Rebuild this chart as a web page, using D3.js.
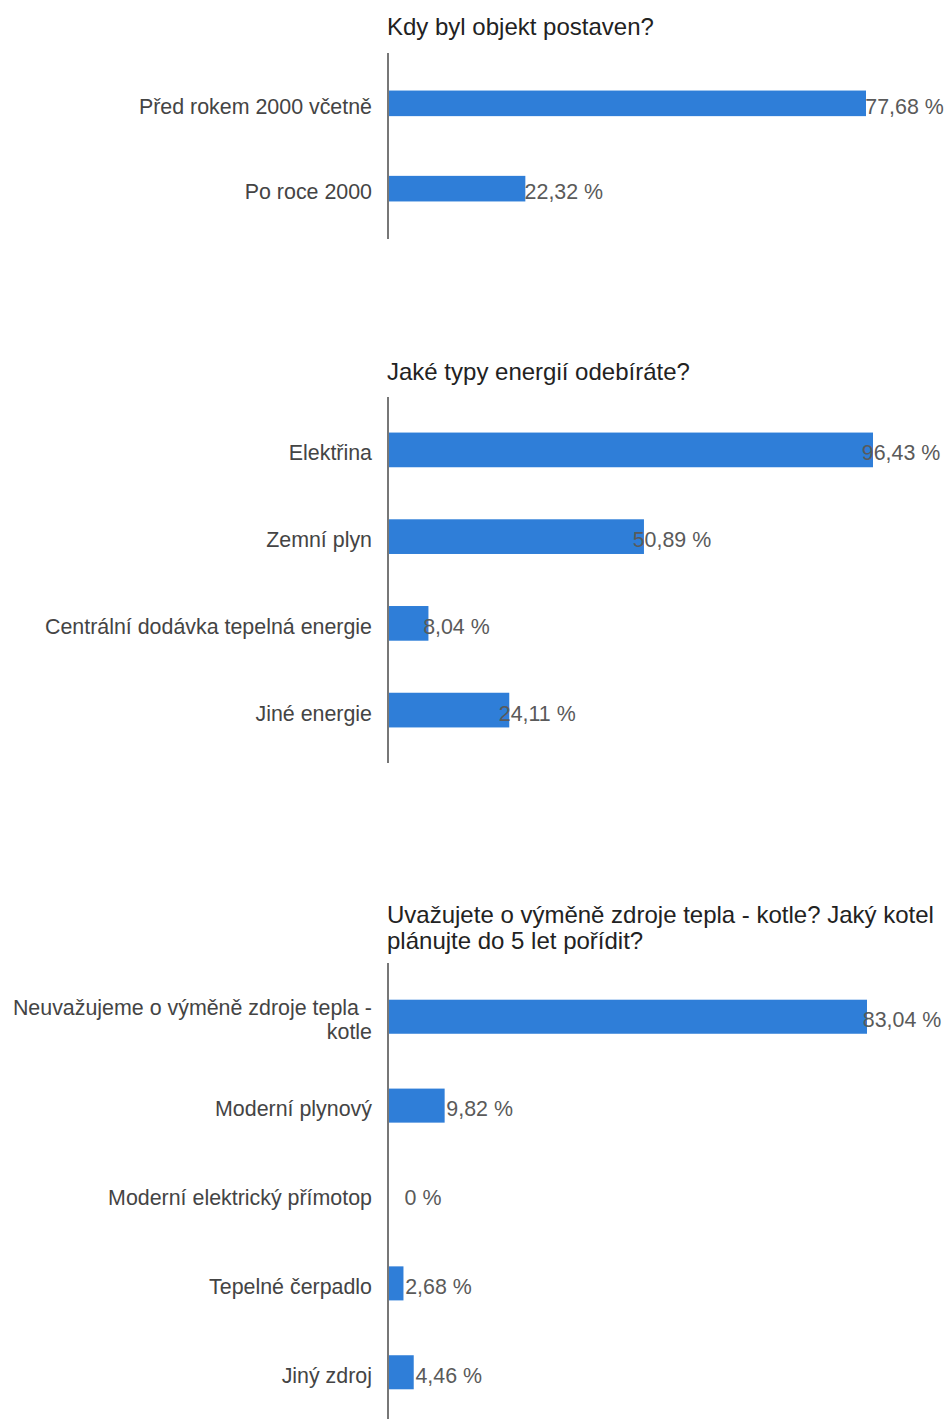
<!DOCTYPE html>
<html>
<head>
<meta charset="utf-8">
<script src="https://cdn.jsdelivr.net/npm/d3@7"></script>
<style>
	body { margin:0; background:#FFFFFF; }
	svg { display:block; }
</style>
</head>
<body>
<div id="surveyCharts"></div>
<script>
/* data */
let q1Title      = [ "Kdy byl objekt postaven?" ] ;
let q1Categories = [ "Před rokem 2000 včetně", "Po roce 2000" ] ;
let q1Values     = [ 77.68, 22.32 ] ;

let q2Title      = [ "Jaké typy energií odebíráte?" ] ;
let q2Categories = [ "Elektřina", "Zemní plyn", "Centrální dodávka tepelná energie", "Jiné energie" ] ;
let q2Values     = [ 96.43, 50.89, 8.04, 24.11 ] ;

let q3Title      = [ "Uvažujete o výměně zdroje tepla - kotle? Jaký kotel", "plánujte do 5 let pořídit?" ] ;
let q3Categories = [ [ "Neuvažujeme o výměně zdroje tepla -", "kotle" ], "Moderní plynový", "Moderní elektrický přímotop", "Tepelné čerpadlo", "Jiný zdroj" ] ;
let q3Values     = [ 83.04, 9.82, 0, 2.68, 4.46 ] ;

/* layout of each block (pixels) */
let pageW = 945, pageH = 1419 ;
let axisX = 388 ;
let lblX  = 372 ;
let barClr = "#2F7ED8" ;
let fontFam = "Arial, 'Liberation Sans', sans-serif" ;
let lblSz = 21.4 ;
let lblLineH = 24 ;

let blocks = [
	{ title:q1Title, cats:q1Categories, vals:q1Values, titleY:34.5,  top:53,  bottom:239,  pIn:0.70, pOut:0.44,  maxEnd:866, lblOff:38.5 },
	{ title:q2Title, cats:q2Categories, vals:q2Values, titleY:379.5, top:397, bottom:763,  pIn:0.60, pOut:0.41,  maxEnd:873, lblOff:28 },
	{ title:q3Title, cats:q3Categories, vals:q3Values, titleY:923,   top:963, bottom:1426, pIn:0.617, pOut:0.413, maxEnd:867, lblOff:35 }
] ;

let czFmt = d3.formatLocale({ decimal:",", thousands:" ", grouping:[3], currency:["",""] }).format(".2f") ;
let pctTxt = (v)=>{ return ( v === 0 ? "0" : czFmt(v) ) + " %" ; } ;

let svg = d3.select("#surveyCharts")
	.append("svg")
		.attr("width", pageW)
		.attr("height", pageH)
		.style("font-family", fontFam)
;

blocks.forEach( (blk, bi)=>{
	let g = svg.append("g").attr("class", "blk" + bi) ;
	let rows = blk.cats.map( (c, i)=>{ return { id:i, cat:c, val:blk.vals[i] } ; } ) ;

	let yScl = d3.scaleBand()
		.domain( rows.map( (d)=>{ return d.id ; } ) )
		.range( [ blk.top, blk.bottom ] )
		.paddingInner( blk.pIn )
		.paddingOuter( blk.pOut )
	;
	let xScl = d3.scaleLinear()
		.domain( [ 0, d3.max(blk.vals) ] )
		.range( [ axisX, blk.maxEnd ] )
	;

	/* title */
	g.append("text")
		.attr("x", axisX - 1)
		.attr("y", blk.titleY)
		.attr("fill", "#222222")
		.style("font-size", "24px")
		.selectAll("tspan")
		.data(blk.title).enter().append("tspan")
			.attr("x", axisX - 1)
			.attr("dy", (d, i)=>{ return i === 0 ? 0 : 26.3 ; })
			.text( (d)=>{ return d ; } )
	;

	/* bars */
	g.selectAll("rect.bar")
		.data(rows).enter().append("rect")
			.attr("class", "bar")
			.attr("x", xScl(0))
			.attr("y", (d)=>{ return yScl(d.id) ; })
			.attr("width", (d)=>{ return xScl(d.val) - xScl(0) ; })
			.attr("height", yScl.bandwidth())
			.attr("fill", barClr)
	;

	/* category labels, one text per line */
	rows.forEach( (d)=>{
		let lines = Array.isArray(d.cat) ? d.cat : [ d.cat ] ;
		let y0 = yScl(d.id) + yScl.bandwidth() / 2 + 10.5 - (lines.length - 1) * lblLineH / 2 ;
		g.selectAll("text.cat" + d.id)
			.data(lines).enter().append("text")
				.attr("class", "cat cat" + d.id)
				.attr("text-anchor", "end")
				.attr("x", lblX)
				.attr("y", (l, i)=>{ return y0 + i * lblLineH ; })
				.attr("fill", "#444444")
				.style("font-size", lblSz + "px")
				.text( (l)=>{ return l ; } )
		;
	}) ;

	/* value labels */
	g.selectAll("text.val")
		.data(rows).enter().append("text")
			.attr("class", "val")
			.attr("text-anchor", "middle")
			.attr("x", (d)=>{ return xScl(d.val) + blk.lblOff ; })
			.attr("y", (d)=>{ return yScl(d.id) + yScl.bandwidth() / 2 + 10.5 ; })
			.attr("fill", "#5A5A5A")
			.style("font-size", lblSz + "px")
			.text( (d)=>{ return pctTxt(d.val) ; } )
	;

	/* vertical axis line */
	g.append("line")
		.attr("x1", axisX).attr("x2", axisX)
		.attr("y1", blk.top).attr("y2", blk.bottom)
		.attr("stroke", "#777777")
		.attr("stroke-width", 2)
	;
}) ;
</script>
</body>
</html>
